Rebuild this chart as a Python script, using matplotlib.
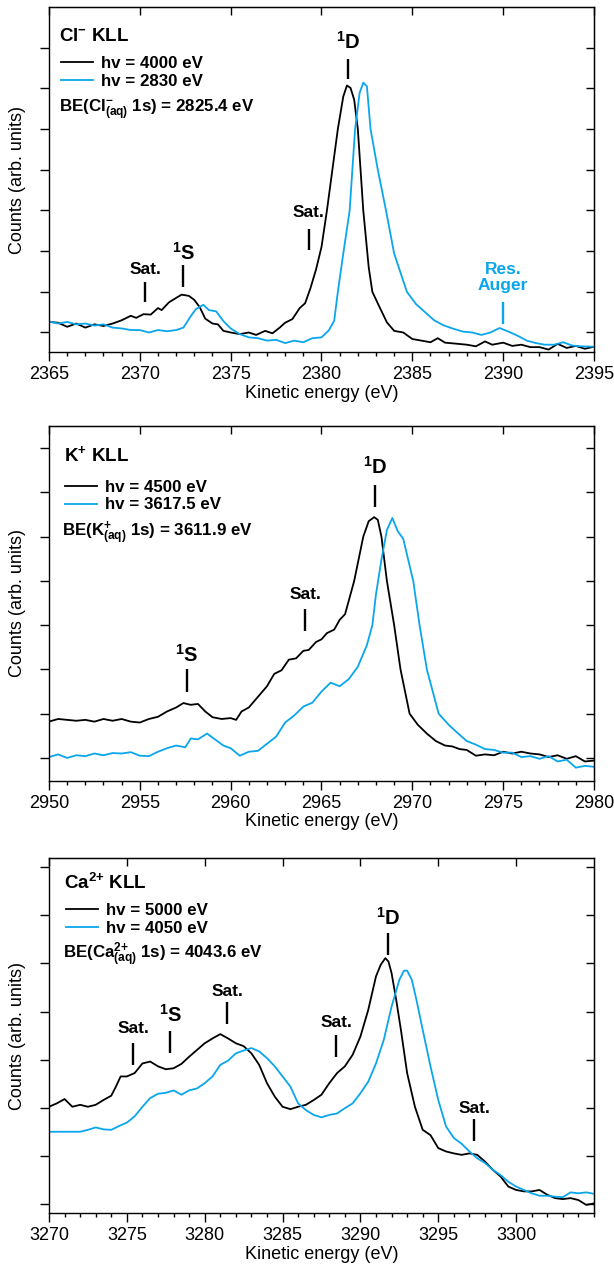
import matplotlib.pyplot as plt
from matplotlib.ticker import FixedLocator, MultipleLocator

plt.rcParams['font.family'] = ['Liberation Sans', 'DejaVu Sans']
plt.rcParams['mathtext.fontset'] = 'custom'
plt.rcParams['mathtext.rm'] = 'Liberation Sans'
plt.rcParams['mathtext.bf'] = 'Liberation Sans:bold'
plt.rcParams['mathtext.default'] = 'bf'

BLUE = '#0aa6ec'

# ---- Cl- KLL ----
cl_ke_hi = [2365.0, 2365.5, 2366.0, 2366.5, 2367.0, 2367.5, 2368.0, 2368.5, 2369.0, 2369.5,
            2369.8, 2370.2, 2370.6, 2371.0, 2371.2, 2371.6, 2372.0, 2372.3, 2372.7, 2373.0,
            2373.3, 2373.6, 2374.0, 2374.3, 2374.6, 2375.0, 2375.5, 2376.0, 2376.4, 2376.9,
            2377.3, 2377.7, 2378.0, 2378.4, 2378.8, 2379.1, 2379.4, 2379.7, 2380.0, 2380.3,
            2380.6, 2380.9, 2381.2, 2381.4, 2381.6, 2381.8, 2382.0, 2382.3, 2382.6, 2382.8,
            2383.2, 2383.6, 2384.0, 2384.5, 2385.0, 2385.5, 2386.0, 2386.4, 2386.8, 2387.3,
            2388.0, 2388.5, 2389.0, 2389.4, 2390.0, 2390.5, 2391.0, 2391.5, 2392.0, 2392.5,
            2393.0, 2393.5, 2394.0, 2394.5, 2395.0]
cl_hi = [0.26, 0.24, 0.14, 0.22, 0.12, 0.20, 0.16, 0.22, 0.30, 0.41,
         0.36, 0.45, 0.44, 0.60, 0.55, 0.74, 0.85, 0.93, 0.90, 0.80,
         0.62, 0.34, 0.22, 0.20, 0.04, 0.00, -0.04, 0.00, -0.06, 0.04,
         -0.02, 0.12, 0.24, 0.33, 0.60, 0.72, 1.10, 1.55, 2.10, 3.00,
         4.00, 5.00, 5.80, 6.07, 6.01, 5.72, 5.00, 3.00, 1.60, 1.00,
         0.62, 0.25, 0.04, 0.00, -0.16, -0.20, -0.24, -0.14, -0.25, -0.27,
         -0.30, -0.34, -0.22, -0.30, -0.25, -0.33, -0.30, -0.36, -0.36, -0.42,
         -0.28, -0.38, -0.33, -0.40, -0.35]
cl_ke_lo = [2365.0, 2365.5, 2366.0, 2366.5, 2367.0, 2367.5, 2368.0, 2368.5, 2369.0, 2369.5,
            2370.0, 2370.5, 2371.0, 2371.5, 2372.0, 2372.4, 2372.8, 2373.1, 2373.5, 2373.8,
            2374.2, 2374.6, 2375.0, 2375.5, 2376.0, 2376.5, 2377.0, 2377.5, 2378.0, 2378.5,
            2379.0, 2379.5, 2380.0, 2380.4, 2380.7, 2380.9, 2381.2, 2381.55, 2381.85, 2382.1,
            2382.3, 2382.5, 2382.7, 2383.1, 2383.55, 2384.0, 2384.7, 2385.2, 2385.7, 2386.2,
            2386.7, 2387.2, 2387.8, 2388.3, 2388.8, 2389.3, 2389.8, 2390.3, 2390.8, 2391.3,
            2391.8, 2392.3, 2392.8, 2393.3, 2393.8, 2394.3, 2395.0]
cl_lo = [0.27, 0.22, 0.26, 0.20, 0.22, 0.17, 0.20, 0.12, 0.10, 0.06,
         0.06, 0.00, 0.06, 0.03, 0.06, 0.12, 0.40, 0.58, 0.68, 0.55,
         0.52, 0.28, 0.10, -0.04, -0.12, -0.14, -0.20, -0.18, -0.26, -0.20,
         -0.24, -0.14, -0.12, 0.05, 0.29, 1.00, 1.94, 3.00, 5.00, 5.89,
         6.14, 6.05, 5.00, 4.00, 3.00, 1.94, 1.00, 0.70, 0.50, 0.30,
         0.18, 0.10, 0.02, 0.00, -0.06, 0.00, 0.11, 0.02, -0.08, -0.20,
         -0.26, -0.30, -0.30, -0.24, -0.32, -0.34, -0.35]
cl_xticks = [2365, 2370, 2375, 2380, 2385, 2390, 2395]
cl_hv = ['hv = 4000 eV', 'hv = 2830 eV']
cl_title = 'Cl$^{-}$ KLL'
cl_be = 'BE(Cl$^{-}_{(aq)}$ 1s) = 2825.4 eV'
# label, x, text baseline, tick top, tick bottom, colour
cl_marks = [('Sat.', 2370.3, 1.44, 1.24, 0.74, 'black'),
            ('$^{1}$S', 2372.4, 1.79, 1.65, 1.13, 'black'),
            ('Sat.', 2379.3, 2.84, 2.55, 2.02, 'black'),
            ('$^{1}$D', 2381.45, 6.96, 6.73, 6.22, 'black'),
            ('Res.\nAuger', 2390.0, 1.05, 0.74, 0.22, BLUE)]

# ---- K+ KLL ----
k_ke_hi = [2950.0, 2950.5, 2951.0, 2951.5, 2952.0, 2952.5, 2953.0, 2953.5, 2954.0, 2954.5,
           2955.0, 2955.5, 2956.0, 2956.5, 2957.0, 2957.4, 2957.8, 2958.2, 2958.6, 2959.0,
           2959.5, 2960.0, 2960.3, 2960.6, 2961.0, 2961.5, 2962.0, 2962.4, 2962.8, 2963.2,
           2963.6, 2964.0, 2964.3, 2964.7, 2965.0, 2965.3, 2965.7, 2966.0, 2966.3, 2966.8,
           2967.3, 2967.6, 2967.9, 2968.1, 2968.3, 2968.6, 2969.0, 2969.35, 2969.85, 2970.3,
           2970.8, 2971.3, 2971.8, 2972.2, 2972.6, 2973.0, 2973.5, 2974.0, 2974.5, 2975.0,
           2975.5, 2976.0, 2976.5, 2977.0, 2977.5, 2978.0, 2978.5, 2979.0, 2979.5, 2980.0]
k_hi = [0.82, 0.88, 0.86, 0.84, 0.86, 0.82, 0.88, 0.84, 0.88, 0.82,
        0.80, 0.88, 0.93, 1.05, 1.14, 1.24, 1.20, 1.22, 1.05, 0.92,
        0.88, 0.90, 0.86, 1.05, 1.14, 1.38, 1.62, 1.90, 1.98, 2.22,
        2.25, 2.42, 2.44, 2.62, 2.68, 2.82, 2.90, 3.12, 3.25, 4.00,
        5.00, 5.35, 5.44, 5.38, 5.00, 4.00, 3.00, 2.00, 1.00, 0.75,
        0.55, 0.38, 0.28, 0.26, 0.20, 0.18, 0.05, 0.08, 0.06, 0.14,
        0.10, 0.14, 0.10, 0.08, 0.02, 0.06, -0.02, 0.04, -0.08, -0.06]
k_ke_lo = [2950.0, 2950.5, 2951.0, 2951.5, 2952.0, 2952.5, 2953.0, 2953.5, 2954.0, 2954.5,
           2955.0, 2955.5, 2956.0, 2956.5, 2957.0, 2957.5, 2957.8, 2958.2, 2958.7, 2959.2,
           2959.6, 2960.0, 2960.5, 2961.0, 2961.5, 2962.0, 2962.5, 2963.0, 2963.5, 2964.0,
           2964.5, 2965.0, 2965.5, 2966.0, 2966.5, 2967.0, 2967.5, 2967.8, 2968.0, 2968.3,
           2968.6, 2968.9, 2969.2, 2969.5, 2970.05, 2970.4, 2970.8, 2971.45, 2972.0, 2972.5,
           2973.0, 2973.5, 2974.0, 2974.5, 2975.0, 2975.5, 2976.0, 2976.5, 2977.0, 2977.5,
           2978.0, 2978.5, 2979.0, 2979.5, 2980.0]
k_lo = [0.02, 0.08, 0.00, 0.06, 0.04, 0.10, 0.06, 0.11, 0.10, 0.13,
        0.05, 0.04, 0.14, 0.22, 0.28, 0.24, 0.44, 0.42, 0.55, 0.40,
        0.28, 0.22, 0.05, 0.14, 0.16, 0.32, 0.48, 0.80, 0.96, 1.16,
        1.25, 1.50, 1.70, 1.62, 1.78, 2.06, 2.55, 3.00, 3.70, 4.48,
        5.15, 5.42, 5.12, 4.95, 4.00, 3.00, 2.00, 1.00, 0.75, 0.56,
        0.38, 0.30, 0.20, 0.18, 0.12, 0.12, 0.02, 0.04, -0.02, 0.04,
        -0.08, -0.04, -0.22, -0.18, -0.20]
k_xticks = [2950, 2955, 2960, 2965, 2970, 2975, 2980]
k_hv = ['hv = 4500 eV', 'hv = 3617.5 eV']
k_title = 'K$^{+}$ KLL'
k_be = 'BE(K$^{+}_{(aq)}$ 1s) = 3611.9 eV'
k_marks = [('$^{1}$S', 2957.6, 2.18, 2.00, 1.50, 'black'),
           ('Sat.', 2964.1, 3.59, 3.36, 2.86, 'black'),
           ('$^{1}$D', 2967.95, 6.42, 6.16, 5.67, 'black')]

# ---- Ca2+ KLL ----
ca_ke_hi = [3270.0, 3270.5, 3271.0, 3271.5, 3272.0, 3272.5, 3273.0, 3273.5, 3274.0, 3274.3,
            3274.6, 3275.0, 3275.5, 3276.0, 3276.5, 3277.0, 3277.5, 3278.0, 3278.5, 3279.0,
            3279.5, 3280.0, 3280.5, 3281.0, 3281.5, 3282.0, 3282.5, 3283.0, 3283.5, 3284.0,
            3284.5, 3285.0, 3285.5, 3286.0, 3286.5, 3287.0, 3287.5, 3288.0, 3288.5, 3289.0,
            3289.5, 3290.0, 3290.5, 3291.0, 3291.3, 3291.6, 3291.8, 3292.0, 3292.3, 3292.6,
            3293.0, 3293.5, 3294.0, 3294.5, 3295.0, 3295.5, 3296.0, 3296.5, 3297.0, 3297.5,
            3298.0, 3298.5, 3299.0, 3299.5, 3300.0, 3300.5, 3301.0, 3301.5, 3302.0, 3302.5,
            3303.0, 3303.5, 3304.0, 3304.5, 3305.0]
ca_hi = [2.02, 2.09, 2.18, 2.02, 2.06, 2.02, 2.06, 2.16, 2.25, 2.44,
         2.65, 2.65, 2.72, 2.92, 2.96, 2.86, 2.80, 2.82, 2.91, 3.06,
         3.20, 3.34, 3.44, 3.53, 3.44, 3.34, 3.28, 3.13, 2.89, 2.51,
         2.23, 2.02, 1.97, 2.02, 2.06, 2.16, 2.27, 2.51, 2.72, 2.86,
         3.10, 3.48, 4.03, 4.73, 4.97, 5.11, 5.04, 4.80, 4.24, 3.62,
         2.72, 2.02, 1.54, 1.43, 1.16, 1.09, 1.05, 1.02, 1.05, 1.02,
         0.88, 0.71, 0.57, 0.36, 0.29, 0.26, 0.26, 0.29, 0.19, 0.12,
         0.10, 0.12, 0.08, -0.02, 0.01]
ca_ke_lo = [3270.0, 3271.0, 3272.0, 3272.5, 3273.0, 3273.5, 3274.0, 3274.5, 3275.0, 3275.5,
            3276.0, 3276.5, 3277.0, 3277.5, 3278.0, 3278.5, 3279.0, 3279.5, 3280.0, 3280.5,
            3281.0, 3281.5, 3282.0, 3282.5, 3283.0, 3283.5, 3284.0, 3284.5, 3285.0, 3285.5,
            3286.0, 3286.5, 3287.0, 3287.5, 3288.0, 3288.5, 3289.0, 3289.5, 3290.0, 3290.5,
            3291.0, 3291.5, 3292.0, 3292.5, 3292.8, 3293.0, 3293.3, 3293.6, 3294.0, 3294.5,
            3295.0, 3295.5, 3296.0, 3296.5, 3297.0, 3297.5, 3298.0, 3298.5, 3299.0, 3299.5,
            3300.0, 3300.5, 3301.0, 3301.5, 3302.0, 3302.5, 3303.0, 3303.5, 3304.0, 3304.5,
            3305.0]
ca_lo = [1.50, 1.50, 1.50, 1.54, 1.59, 1.55, 1.54, 1.62, 1.69, 1.82,
         2.02, 2.20, 2.29, 2.31, 2.36, 2.27, 2.36, 2.40, 2.51, 2.65,
         2.89, 2.98, 3.13, 3.19, 3.24, 3.17, 3.03, 2.86, 2.65, 2.44,
         2.09, 1.95, 1.85, 1.80, 1.85, 1.88, 1.99, 2.09, 2.30, 2.54,
         2.92, 3.41, 4.10, 4.66, 4.85, 4.85, 4.66, 4.24, 3.62, 2.86,
         2.16, 1.61, 1.37, 1.25, 1.09, 0.95, 0.85, 0.71, 0.60, 0.46,
         0.36, 0.29, 0.22, 0.17, 0.17, 0.15, 0.14, 0.24, 0.22, 0.24,
         0.21]
ca_xticks = [3270, 3275, 3280, 3285, 3290, 3295, 3300]
ca_hv = ['hv = 5000 eV', 'hv = 4050 eV']
ca_title = 'Ca$^{2{+}}$ KLL'
ca_be = 'BE(Ca$^{2{+}}_{(aq)}$ 1s) = 4043.6 eV'
ca_marks = [('Sat.', 3275.4, 3.56, 3.34, 2.89, 'black'),
            ('$^{1}$S', 3277.8, 3.79, 3.60, 3.13, 'black'),
            ('Sat.', 3281.45, 4.32, 4.19, 3.74, 'black'),
            ('Sat.', 3288.45, 3.67, 3.51, 3.06, 'black'),
            ('$^{1}$D', 3291.75, 5.80, 5.63, 5.18, 'black'),
            ('Sat.', 3297.3, 1.90, 1.76, 1.30, 'black')]


def draw_panel(ax, ke_hi, y_hi, ke_lo, y_lo, hv, title, be, marks,
               xlim, ylim, xticks, title_xy, be_xy, leg_xy):
    l1, = ax.plot(ke_hi, y_hi, color='black', lw=1.3)
    l2, = ax.plot(ke_lo, y_lo, color=BLUE, lw=1.3)
    ax.set_xlim(*xlim)
    ax.set_ylim(*ylim)

    ax.xaxis.set_major_locator(FixedLocator(xticks))
    ax.xaxis.set_minor_locator(MultipleLocator(1))
    ax.set_yticks(range(8))
    ax.tick_params(axis='x', which='major', direction='out', length=6.2, width=1,
                   labelsize=13, pad=4)
    ax.tick_params(axis='x', which='minor', direction='out', length=3.1, width=1)
    ax.tick_params(axis='y', direction='out', length=6.7, width=1, labelleft=False)
    for s in ax.spines.values():
        s.set_linewidth(1.0)

    top = ax.secondary_xaxis('top')
    top.set_xticks(xticks)
    top.tick_params(direction='in', length=6, width=1, labeltop=False)
    right = ax.secondary_yaxis('right')
    right.set_yticks(range(8))
    right.tick_params(direction='in', length=6, width=1, labelright=False)

    ax.set_xlabel('Kinetic energy (eV)', fontsize=13, labelpad=1)
    ax.set_ylabel('Counts (arb. units)', fontsize=13, labelpad=10)

    ax.text(title_xy[0], title_xy[1], title, transform=ax.transAxes,
            fontsize=13.5, fontweight='bold', va='baseline', ha='left')
    ax.text(be_xy[0], be_xy[1], be, transform=ax.transAxes,
            fontsize=12.2, fontweight='bold', va='baseline', ha='left')
    ax.legend([l1, l2], hv, loc='upper left', bbox_to_anchor=leg_xy,
              frameon=False, handlelength=1.9, handletextpad=0.45,
              labelspacing=0.15, borderpad=0, borderaxespad=0,
              prop={'weight': 'bold', 'size': 12.2})

    for label, x, ty, y0, y1, c in marks:
        size = 14.5 if label.startswith('$') else 12.5
        ax.text(x, ty, label, color=c, fontsize=size, fontweight='bold',
                ha='center', va='baseline', linespacing=1.05)
        ax.vlines(x, y1, y0, color=c, lw=1.7)


fig = plt.figure(figsize=(6.14, 12.69), dpi=100)
ax1 = fig.add_axes([0.0798, 0.7226, 0.8876, 0.2719])
ax2 = fig.add_axes([0.0798, 0.3846, 0.8876, 0.2797])
ax3 = fig.add_axes([0.0798, 0.0441, 0.8876, 0.2797])

draw_panel(ax1, cl_ke_hi, cl_hi, cl_ke_lo, cl_lo, cl_hv, cl_title, cl_be, cl_marks,
           (2365, 2395), (-0.48, 8.0), cl_xticks,
           (0.018, 0.902), (0.018, 0.693), (0.022, 0.858))
draw_panel(ax2, k_ke_hi, k_hi, k_ke_lo, k_lo, k_hv, k_title, k_be, k_marks,
           (2950, 2980), (-0.52, 7.5), k_xticks,
           (0.028, 0.901), (0.024, 0.690), (0.029, 0.848))
draw_panel(ax3, ca_ke_hi, ca_hi, ca_ke_lo, ca_lo, ca_hv, ca_title, ca_be, ca_marks,
           (3270, 3305), (-0.19, 7.19), ca_xticks,
           (0.028, 0.912), (0.026, 0.715), (0.031, 0.873))

fig.savefig('out.png', dpi=100)
plt.close(fig)
